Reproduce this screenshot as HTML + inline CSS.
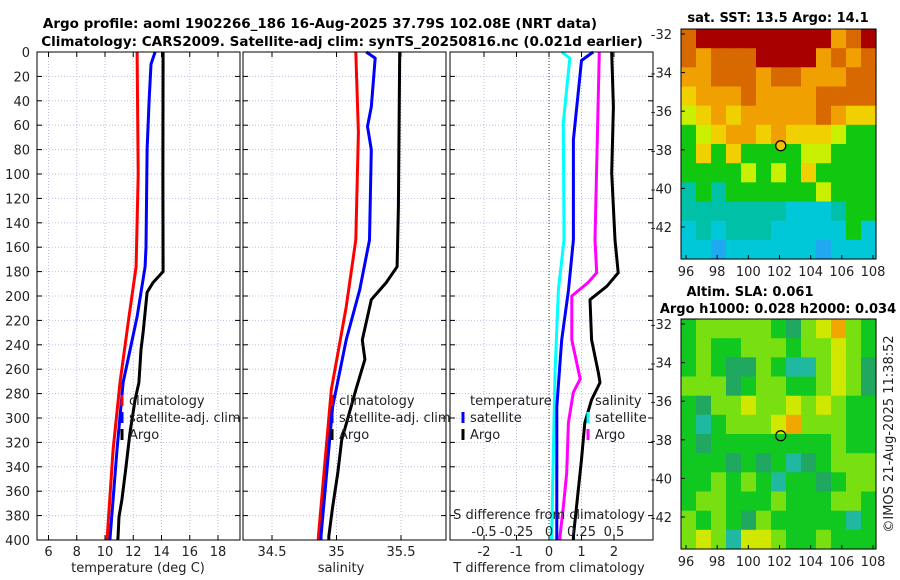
<!DOCTYPE html>
<html><head><meta charset="utf-8"><style>
body{margin:0;background:#fff;}
svg{display:block;font-family:"DejaVu Sans","Liberation Sans",sans-serif;}
</style></head><body>
<svg id="fig" width="900" height="580" viewBox="0 0 900 580" xmlns="http://www.w3.org/2000/svg">
<text x="320" y="28" font-size="13.5" font-weight="bold" text-anchor="middle">Argo profile: aoml 1902266_186 16-Aug-2025 37.79S 102.08E (NRT data)</text>
<text x="342" y="46" font-size="13.5" font-weight="bold" text-anchor="middle">Climatology: CARS2009. Satellite-adj clim: synTS_20250816.nc (0.021d earlier)</text>
<g id="plots"></g>
</svg>
<script>
// ---- data ----
const tClimDepth=[0,100,176,217,271,326,400];
const tClimVal=[12.27,12.35,12.2,11.7,11.06,10.57,10.14];
const tSatDepth=[0,10,40,80,160,176,217,271,326,400];
const tSatVal=[13.55,13.26,13.12,12.98,12.9,12.84,12.27,11.28,10.85,10.35];
const tArgoDepth=[0,100,180,189,197,230,244,271,285,312,340,367,381,398,400];
const tArgoVal=[14.11,14.1,14.11,13.4,12.98,12.7,12.55,12.4,12.13,11.77,11.49,11.2,10.99,10.92,10.9];
const sClimDepth=[0,66,154,209,277,397,400];
const sClimVal=[35.15,35.17,35.15,35.075,34.96,34.86,34.86];
const sSatDepth=[0,5,45,61,80,154,195,236,291,397,400];
const sSatVal=[35.23,35.30,35.27,35.24,35.27,35.256,35.18,35.075,34.97,34.88,34.88];
const sArgoDepth=[0,127,176,189,203,236,252,277,318,345,373,397,400];
const sArgoVal=[35.49,35.48,35.47,35.385,35.27,35.20,35.22,35.15,35.04,35.01,34.97,34.94,34.94];
const dSSatDepth=[0,5,58,154,195,263,397,400];
const dSSatVal=[0.098,0.16,0.11,0.115,0.072,0.046,0.02,0.02];
const dTSatDepth=[0,7,72,154,195,236,291,397,400];
const dTSatVal=[1.36,1.0,0.75,0.75,0.6,0.39,0.24,0.24,0.24];
const dSArgoDepth=[0,154,181,189,200,236,268,279,304,345,373,397,400];
const dSArgoVal=[0.387,0.354,0.367,0.30,0.175,0.175,0.24,0.187,0.149,0.136,0.11,0.085,0.085];
const dTArgoDepth=[0,45,99,154,181,192,203,236,263,271,285,304,334,397,400];
const dTArgoVal=[1.93,1.98,1.93,2.03,2.13,1.78,1.26,1.31,1.52,1.57,1.31,1.1,1.0,0.75,0.75];
const depthTicks=[0,20,40,60,80,100,120,140,160,180,200,220,240,260,280,300,320,340,360,380,400];
const tTicks=[6,8,10,12,14,16,18];
const sTicks=[34.5,35,35.5];
const dTTicks=[-2,-1,0,1,2];
const dSTicks=[-0.5,-0.25,0,0.25,0.5];
const lonTicks=[96,98,100,102,104,106,108];
const latTicks=[-32,-34,-36,-38,-40,-42];
const sstGrid=["ORRRRRRRRRoOR","OoOOORRRRoOoO","ooOOOoOOoooOO","YoooOooooOOOO","yYoYoooooOoYY","GyYooYoYYYyGG","GYGYGGGGyyGGG","GGGGyGyGYGGGG","CGCGGGGGGyGGG","CCCCCCCcccCGG","cCcCCCcccccGc","ccBccccccBccc"];
const slaGrid=["GLLLLLGDLYOLG","GLGGLLLGLLYLG","GLGDDLGTTLYLD","LLLDGLLGGLYLD","GDLLYLLYLYLGG","GTGLLLYOLLLGG","GDGGGGGGGGLGG","GGGDGDGTDGLLL","GGLGLGTGGDGLL","GLLGGGLGGGLLG","LGLGDLGGGGGTG","LYLTYYLGGLGGG"];
const floatLon=102.08, floatLat=-37.79;
// ---- layout ----
const NS="http://www.w3.org/2000/svg";
const root=document.getElementById('plots');
function el(tag,attrs,parent){const e=document.createElementNS(NS,tag);for(const k in attrs)e.setAttribute(k,attrs[k]);(parent||root).appendChild(e);return e;}
const top0=52,bot0=540;
const yD=d=>top0+d*(bot0-top0)/400;
function lin(d0,d1,r0,r1){return v=>r0+(v-d0)*(r1-r0)/(d1-d0);}
const panels=[
 {x0:37,x1:240,name:'temperature-panel'},
 {x0:243,x1:446,name:'salinity-panel'},
 {x0:450,x1:653,name:'difference-panel'}];
const xT=lin(10,18,105,218);
const xS=lin(34.5,35.5,272,401);
const xDT=lin(-2,2,484,614);
const xDS=lin(-0.5,0.5,484,614);
function text(x,y,s,opt){const t=el('text',Object.assign({x:x,y:y,'font-size':13,fill:'#222'},opt||{}));t.textContent=s;return t;}
function gridH(p){depthTicks.forEach(d=>{const l=el('line',{x1:p.x0,x2:p.x1,y1:yD(d),y2:yD(d),stroke:'#b8c0e0','stroke-width':1,'stroke-dasharray':'1,2'});

});}
function gridV(p,ticks,sx){ticks.forEach(v=>{const l=el('line',{x1:sx(v),x2:sx(v),y1:top0,y2:bot0,stroke:'#b8c0e0','stroke-width':1,'stroke-dasharray':'1,2'});

});}
function ticksX(ticks,sx,y,lab){ticks.forEach(v=>{const X=sx(v);
el('line',{x1:X,x2:X,y1:bot0,y2:bot0-5,stroke:'#000'});el('line',{x1:X,x2:X,y1:top0,y2:top0+5,stroke:'#000'});
const t=text(X,y,lab?lab(v):String(v),{'text-anchor':'middle'});

});}
function ticksY(p,labels){depthTicks.forEach(d=>{el('line',{x1:p.x0,x2:p.x0+5,y1:yD(d),y2:yD(d),stroke:'#000'});el('line',{x1:p.x1,x2:p.x1-5,y1:yD(d),y2:yD(d),stroke:'#000'});
if(labels){const t=text(30,yD(d)+5,String(d),{'text-anchor':'end'});

}});}
function frame(p){const r=el('rect',{x:p.x0,y:top0,width:p.x1-p.x0,height:bot0-top0,fill:'none',stroke:'#000','stroke-width':1});

}
function series(depths,vals,sx,color,name){const pts=depths.map((d,i)=>sx(vals[i]).toFixed(1)+','+yD(d).toFixed(1)).join(' ');
const l=el('polyline',{points:pts,fill:'none',stroke:color,'stroke-width':3,'stroke-linejoin':'round'});

}
function legend(x,y,color,label){if(color){const m=el('line',{x1:x,x2:x,y1:y-10,y2:y+1,stroke:color,'stroke-width':3});

}
const t=text(x+7,y,label);

}
// panel 1
let p=panels[0];gridH(p);gridV(p,tTicks,xT);
series(tClimDepth,tClimVal,xT,'#f00','temperature-climatology-line');
series(tSatDepth,tSatVal,xT,'#00f','temperature-satellite-line');
series(tArgoDepth,tArgoVal,xT,'#000','temperature-argo-line');
frame(p);ticksY(p,true);ticksX(tTicks,xT,556);
let t=text(138,572,'temperature (deg C)',{'text-anchor':'middle'});
legend(122,405,'#f00','climatology');legend(122,422,'#00f','satellite-adj. clim');legend(122,439,'#000','Argo');
// panel 2
p=panels[1];gridH(p);gridV(p,sTicks,xS);
series(sClimDepth,sClimVal,xS,'#f00','salinity-climatology-line');
series(sSatDepth,sSatVal,xS,'#00f','salinity-satellite-line');
series(sArgoDepth,sArgoVal,xS,'#000','salinity-argo-line');
frame(p);ticksY(p,false);ticksX(sTicks,xS,556);
t=text(341,572,'salinity',{'text-anchor':'middle'});
legend(332,405,'#f00','climatology');legend(332,422,'#00f','satellite-adj. clim');legend(332,439,'#000','Argo');
// panel 3
p=panels[2];gridH(p);gridV(p,dTTicks.filter(v=>v!==0),xDT);
el('line',{x1:xDT(0),x2:xDT(0),y1:top0,y2:bot0,stroke:'#333','stroke-dasharray':'1,2'});
series(dSSatDepth,dSSatVal,xDS,'#0ff','salinity-diff-satellite-line');
series(dTSatDepth,dTSatVal,xDT,'#00f','temperature-diff-satellite-line');
series(dSArgoDepth,dSArgoVal,xDS,'#f0f','salinity-diff-argo-line');
series(dTArgoDepth,dTArgoVal,xDT,'#000','temperature-diff-argo-line');
frame(p);ticksY(p,false);ticksX(dTTicks,xDT,556);
dSTicks.forEach(v=>{const tt=text(xDS(v),536,'',{'text-anchor':'middle'});tt.textContent=(v===0?'0':(v<0?'-':'')+String(Math.abs(v)));

});
t=text(549,519,'S difference from climatology',{'text-anchor':'middle'});
t=text(549,572,'T difference from climatology',{'text-anchor':'middle'});
t=text(470,405,'temperature');
legend(463,422,'#00f','satellite');legend(463,439,'#000','Argo');
t=text(595,405,'salinity');
legend(588,422,'#0ff','satellite');legend(588,439,'#f0f','Argo');
// maps
const sstCol={R:'#a80000',O:'#d86800',o:'#f0a000',Y:'#f0d000',y:'#c8f000',G:'#10c810',C:'#00c0a8',c:'#00c8d8',B:'#20a8f0'};
const slaCol={G:'#10c820',L:'#78e010',D:'#20a860',T:'#20b8a0',Y:'#d0e800',O:'#f0a800'};
function map(y0,y1,grid,cols,name){
 const x0=681,x1=876;
 const lx=lin(96,108,686,873), ly=lin(-32,-42,y0+5,y0+198);
 const g=el('g',{});
 
 
 const nr=grid.length,nc=grid[0].length;
 const cw=(x1-x0)/nc,ch=(y1-y0)/nr;
 grid.forEach((row,r)=>{for(let c=0;c<nc;c++){el('rect',{x:(x0+c*cw).toFixed(1),y:(y0+r*ch).toFixed(1),width:(cw+0.6).toFixed(1),height:(ch+0.6).toFixed(1),fill:cols[row[c]]},g);}});
 const fr=el('rect',{x:x0,y:y0,width:x1-x0,height:y1-y0,fill:'none',stroke:'#000'});
 
 
 lonTicks.forEach(v=>{el('line',{x1:lx(v),x2:lx(v),y1:y1,y2:y1-4,stroke:'#000'});
  const tt=text(lx(v),y1+17,String(v),{'text-anchor':'middle'});
  
  });
 latTicks.forEach(v=>{el('line',{x1:x0,x2:x0+4,y1:ly(v),y2:ly(v),stroke:'#000'});
  const tt=text(672,ly(v)+5,String(v),{'text-anchor':'end'});
  
  });
 const c=el('circle',{cx:lx(floatLon),cy:ly(floatLat),r:5,fill:name==='sst-map'?'#f0c000':'none',stroke:'#000','stroke-width':1.2});
 
 
}
map(29,259,sstGrid,sstCol,'sst-map');
map(319,549,slaGrid,slaCol,'sla-map');
t=text(778,22,'sat. SST: 13.5 Argo: 14.1',{'text-anchor':'middle','font-weight':'bold',fill:'#000'});
t=text(750,296,'Altim. SLA: 0.061',{'text-anchor':'middle','font-weight':'bold',fill:'#000'});
t=text(778,313,'Argo h1000: 0.028 h2000: 0.034',{'text-anchor':'middle','font-weight':'bold',fill:'#000'});
t=text(0,0,'©IMOS 21-Aug-2025 11:38:52',{'text-anchor':'middle',transform:'translate(893,434) rotate(-90)'});
</script>
</body></html>
